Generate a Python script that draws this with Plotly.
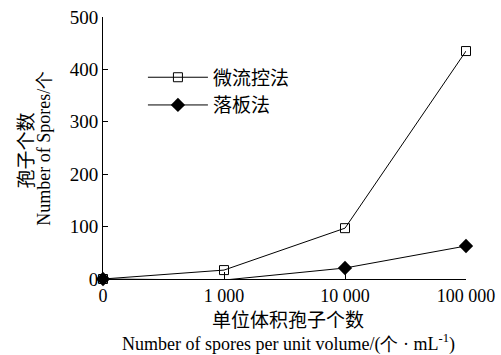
import plotly.graph_objects as go

categories = ["0", "1 000", "10 000", "100 000"]
microfluidic = [0, 17, 97, 435]
plate = [0, -2, 21, 63]
y_ticks = [0, 100, 200, 300, 400, 500]

SERIF = "Liberation Serif"
CJK = "Noto Sans CJK SC"

xpos = list(range(len(categories)))

fig = go.Figure()
fig.add_trace(go.Scatter(
    x=xpos, y=microfluidic, name="微流控法", mode="lines+markers",
    line=dict(color="black", width=1),
    marker=dict(symbol="square-open", size=9, color="black", line=dict(width=1)),
    cliponaxis=False,
))
fig.add_trace(go.Scatter(
    x=xpos, y=plate, name="落板法", mode="lines+markers",
    line=dict(color="black", width=1),
    marker=dict(symbol="diamond", size=11, color="black"),
    cliponaxis=False,
))

fig.update_layout(
    width=501, height=355,
    margin=dict(l=103, r=35, t=17, b=76, autoexpand=False),
    plot_bgcolor="white", paper_bgcolor="white",
    showlegend=True,
    legend=dict(x=0.11, y=0.842, xanchor="left", yanchor="top",
                font=dict(family=CJK, size=19, color="black"),
                bgcolor="rgba(0,0,0,0)", tracegroupgap=0, itemwidth=60),
    xaxis=dict(range=[0, 3], tickmode="array", tickvals=xpos, ticktext=categories,
               showline=True, linecolor="black", linewidth=1, showgrid=False,
               zeroline=False, ticks="inside", ticklen=7, tickcolor="black",
               tickfont=dict(family=SERIF, size=18, color="black")),
    yaxis=dict(range=[0, 500], tickmode="array", tickvals=y_ticks,
               showline=True, linecolor="black", linewidth=1, showgrid=False,
               zeroline=False, ticks="inside", ticklen=5, tickcolor="black",
               tickfont=dict(family=SERIF, size=19, color="black")),
)

fig.add_annotation(text="孢子个数", xref="paper", yref="paper",
                   x=-0.215, y=0.49, xanchor="center", yanchor="middle",
                   textangle=-90, showarrow=False,
                   font=dict(family=CJK, size=19, color="black"))
fig.add_annotation(text="Number of Spores/个", xref="paper", yref="paper",
                   x=-0.163, y=0.5, xanchor="center", yanchor="middle",
                   textangle=-90, showarrow=False,
                   font=dict(family=SERIF, size=18, color="black"))
fig.add_annotation(text="单位体积孢子个数", xref="paper", yref="paper",
                   x=0.51, y=-0.15, xanchor="center", yanchor="middle",
                   showarrow=False, font=dict(family=CJK, size=19, color="black"))
fig.add_annotation(text="Number of spores per unit volume/(个 · mL<sup>-1</sup>)",
                   xref="paper", yref="paper",
                   x=0.51, y=-0.243, xanchor="center", yanchor="middle",
                   showarrow=False, font=dict(family=SERIF, size=18, color="black"))

fig.write_html("out.html", config={"displayModeBar": False},
               post_script="document.body.style.margin='0';")
